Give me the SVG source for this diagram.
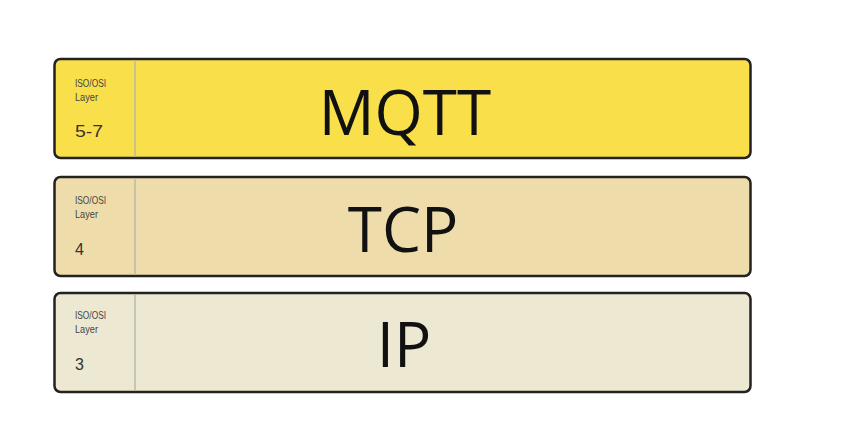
<svg xmlns="http://www.w3.org/2000/svg" width="844" height="436" viewBox="0 0 844 436">
<style>
.box{stroke:#222;stroke-width:2.5}
.div{stroke:#bdb8a8;stroke-width:1.5}
.small{font-family:"Liberation Sans",Arial,sans-serif;font-size:11px;fill:#444}
.num{font-family:"Liberation Sans",Arial,sans-serif;font-size:16px;fill:#333}
.big{font-family:"Open Sans","Noto Sans",sans-serif;fill:#111;text-anchor:middle}
</style>
<rect width="844" height="436" fill="#fff"/>
<g id="mqtt">
<rect class="box" x="54.500" y="59" width="696" height="99" rx="6" fill="#F9DF4A"/>
<line class="div" x1="135" y1="60" x2="135" y2="157"/>
<text class="small" x="75" y="87" textLength="31" lengthAdjust="spacingAndGlyphs">ISO/OSI</text>
<text class="small" x="75" y="101" textLength="23" lengthAdjust="spacingAndGlyphs">Layer</text>
<text class="num" x="75" y="137" textLength="28" lengthAdjust="spacingAndGlyphs">5-7</text>
<text class="big" x="405" y="135" font-size="62">MQTT</text>
</g>
<g id="tcp">
<rect class="box" x="54.500" y="177" width="696" height="99" rx="6" fill="#EEDDAA"/>
<line class="div" x1="135" y1="178" x2="135" y2="275"/>
<text class="small" x="75" y="204" textLength="31" lengthAdjust="spacingAndGlyphs">ISO/OSI</text>
<text class="small" x="75" y="218" textLength="23" lengthAdjust="spacingAndGlyphs">Layer</text>
<text class="num" x="75" y="255">4</text>
<text class="big" x="403" y="252" font-size="62">TCP</text>
</g>
<g id="ip">
<rect class="box" x="54.500" y="293" width="696" height="99" rx="6" fill="#ECE8D2"/>
<line class="div" x1="135" y1="294" x2="135" y2="391"/>
<text class="small" x="75" y="319" textLength="31" lengthAdjust="spacingAndGlyphs">ISO/OSI</text>
<text class="small" x="75" y="333" textLength="23" lengthAdjust="spacingAndGlyphs">Layer</text>
<text class="num" x="75" y="370">3</text>
<text class="big" x="404" y="367" font-size="62">IP</text>
</g>
<g id="connectors"/>
</svg>
